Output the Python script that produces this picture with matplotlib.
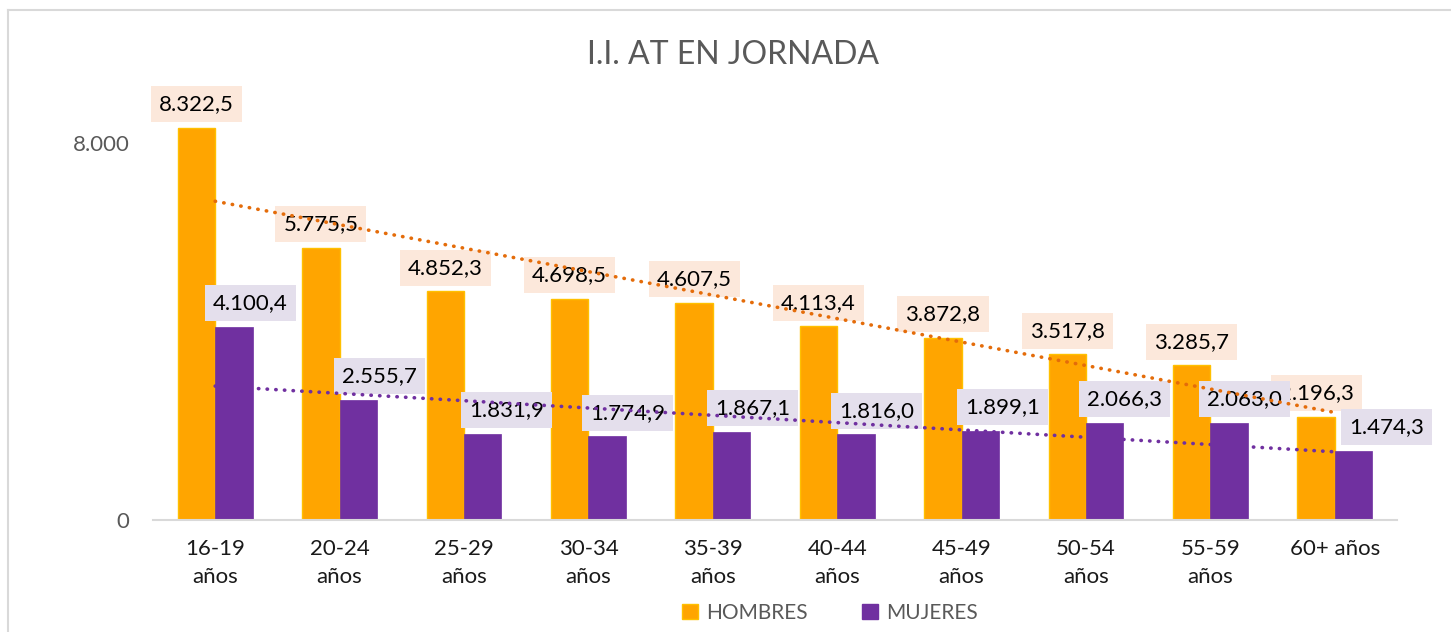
import matplotlib
matplotlib.use("Agg")
import matplotlib.pyplot as plt
from matplotlib.lines import Line2D
from matplotlib.patches import Patch
import numpy as np

plt.rcParams['font.family'] = ['Lato', 'DejaVu Sans']

categories = ["16-19\naños", "20-24\naños", "25-29\naños", "30-34\naños", "35-39\naños",
              "40-44\naños", "45-49\naños", "50-54\naños", "55-59\naños", "60+ años"]
hombres = [8322.5, 5775.5, 4852.3, 4698.5, 4607.5, 4113.4, 3872.8, 3517.8, 3285.7, 2196.3]
mujeres = [4100.4, 2555.7, 1831.9, 1774.9, 1867.1, 1816.0, 1899.1, 2066.3, 2063.0, 1474.3]
title = "I.I. AT EN JORNADA"
series_names = ["HOMBRES", "MUJERES"]

C_H = "#FFA500"
C_H_EDGE = "#FFC000"
C_M = "#7030A0"
C_HT = "#E46C0A"
BOX_H = "#FCE8DB"
BOX_M = "#E4DFEC"

def fmt(v, dec=1):
    s = f"{v:,.{dec}f}"
    return s.replace(",", "X").replace(".", ",").replace("X", ".")

W, H = 1451, 632
fig = plt.figure(figsize=(W / 100, H / 100), dpi=100)
fig.patch.set_facecolor("white")

# outer frame (partially visible)
fig.add_artist(Line2D([8 / W, 8 / W], [0, 1 - 10 / H], color="#D9D9D9", lw=1.5))
fig.add_artist(Line2D([8 / W, 1], [1 - 10 / H, 1 - 10 / H], color="#D9D9D9", lw=1.5))

ax = fig.add_axes([153 / W, 1 - 520 / H, (1397 - 153) / W, (520 - 96) / H])
x = np.arange(len(categories))
bw = 0.3
ax.bar(x - bw / 2, hombres, bw, color=C_H, edgecolor=C_H_EDGE, linewidth=1.0, zorder=2)
ax.bar(x + bw / 2, mujeres, bw, color=C_M, edgecolor=C_M, linewidth=0.5, zorder=2)

# linear trend lines
for vals, col in [(hombres, C_HT), (mujeres, C_M)]:
    p = np.polyfit(x, vals, 1)
    ax.plot(x, np.polyval(p, x), color=col, lw=2.6, linestyle=(0, (0.1, 2.3)),
            dash_capstyle="round", zorder=5)

# data labels
for i, v in enumerate(hombres):
    ax.annotate(fmt(v), (x[i] - bw / 2, v), xytext=(0, 17), textcoords="offset points",
                ha="center", va="center", fontsize=16, color="#000000", zorder=4,
                bbox=dict(boxstyle="square,pad=0.36", fc=BOX_H, ec="none"))
m_dx = [12, 15, 17, 15, 15, 15, 16, 14, 11, 24]
for i, v in enumerate(mujeres):
    ax.annotate(fmt(v), (x[i] + bw / 2, v), xytext=(m_dx[i], 17), textcoords="offset points",
                ha="center", va="center", fontsize=16, color="#000000", zorder=4,
                bbox=dict(boxstyle="square,pad=0.36", fc=BOX_M, ec="none"))

ax.set_xlim(-0.5, len(categories) - 0.5)
ax.set_ylim(0, 9000)
ax.set_yticks([0, 8000])
ax.set_yticklabels(["0", "8.000"])
ax.set_xticks(x)
ax.set_xticklabels(categories, fontsize=16, color="#1a1a1a", linespacing=1.5)
ax.tick_params(axis="y", length=0, pad=17, labelsize=16, labelcolor="#595959")
ax.tick_params(axis="x", length=0, pad=14)
for s in ["top", "right", "left"]:
    ax.spines[s].set_visible(False)
ax.spines["bottom"].set_color("#D9D9D9")
ax.spines["bottom"].set_linewidth(1.5)
ax.set_facecolor("white")

fig.text(733 / W, 1 - 55 / H, title, ha="center", va="center", fontsize=23, color="#595959")

handles = [Patch(facecolor=C_H, edgecolor=C_H_EDGE), Patch(facecolor=C_M, edgecolor=C_M)]
fig.legend(handles, series_names, loc="center", bbox_to_anchor=(830 / W, 1 - 613 / H),
           ncol=2, frameon=False, fontsize=15, labelcolor="#595959",
           handlelength=0.75, handleheight=0.75, handletextpad=0.4, columnspacing=2.6)

fig.savefig("out.png", dpi=100)
